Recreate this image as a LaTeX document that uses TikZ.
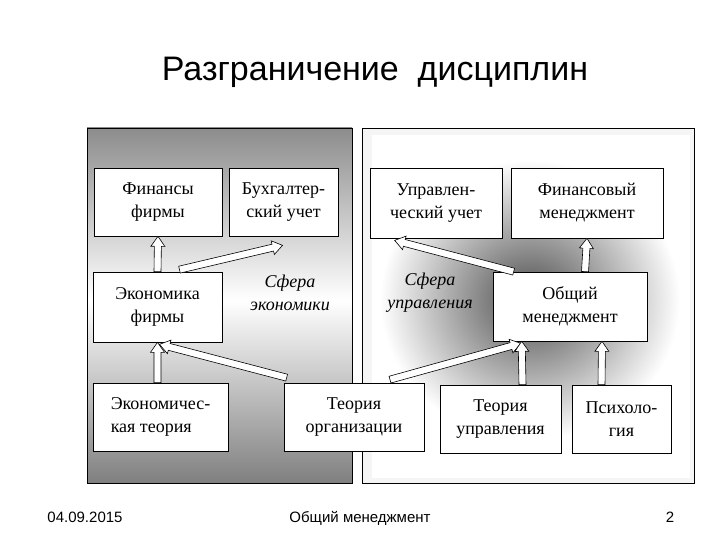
\documentclass[tikz,border=0pt]{standalone}
\usepackage{fontspec}
\setmainfont{Liberation Serif}
\newfontfamily\sansf{Liberation Sans}
\usetikzlibrary{calc}
\newcommand\harrow[2]{\draw[fill=white,line width=0.6pt] let \p1=#1, \p2=#2, \n1={atan2(\y2-\y1,\x2-\x1)}, \n2={veclen(\x2-\x1,\y2-\y1)} in [shift={(\p1)}, rotate=\n1] (0,-3.5pt) -- (\n2-10pt,-3.5pt) -- (\n2-10pt,-7pt) -- (\n2,0) -- (\n2-10pt,7pt) -- (\n2-10pt,3.5pt) -- (0,3.5pt) -- cycle;}
\begin{document}
\begin{tikzpicture}[x=1pt,y=-1pt,
  box/.style={draw,fill=white,line width=0.7pt,align=center,font=\fontsize{18}{23}\selectfont},
  lbl/.style={align=center,font=\itshape\fontsize{18}{23}\selectfont},
  foot/.style={font=\sansf\fontsize{15}{17}\selectfont,anchor=base}]
\useasboundingbox (0,0) rectangle (720,540);
\fill[white] (0,0) rectangle (720,540);
% left panel
\shade[top color=black!45,bottom color=white] (87,128) rectangle (352,300);
\shade[top color=white,bottom color=black!50] (87,300) rectangle (352,483);
\draw[line width=0.7pt] (87,128) rectangle (352,483);
% right panel
\begin{scope}
\clip (362,128) rectangle (694,483);
\fill[black!4] (362,128) rectangle (694,483);
\fill[white] (372,135) rectangle (690,478);
\shade[inner color=black!70,outer color=white] (530,300) ellipse (150 and 140);
\end{scope}
\draw[line width=0.7pt] (362,128) rectangle (694,483);
\node[font=\sansf\fontsize{34}{38}\selectfont] (title) at (375,72) {Разграничение\ \ дисциплин};
% boxes
\node[box,minimum width=128,minimum height=68] (fin) at (158,202) {Финансы\\фирмы};
\node[box,minimum width=109,minimum height=68] (buh) at (283.5,202) {Бухгалтер-\\ский учет};
\node[box,minimum width=132,minimum height=70] (upr) at (436,203) {Управлен-\\ческий учет};
\node[box,minimum width=152,minimum height=70] (fm) at (587,203) {Финансовый\\менеджмент};
\node[box,minimum width=129,minimum height=70] (eco) at (157.5,307) {Экономика\\фирмы};
\node[box,minimum width=154,minimum height=69] (om) at (570,306.5) {Общий\\менеджмент};
\node[box,minimum width=135,minimum height=68,align=left,inner xsep=2pt] (et) at (160.5,417) {Экономичес-\\кая теория};
\node[box,minimum width=140,minimum height=68] (to) at (354,417) {Теория\\организации};
\node[box,minimum width=121,minimum height=68] (tu) at (500.5,419) {Теория\\управления};
\node[box,minimum width=99,minimum height=68,inner xsep=1pt] (ps) at (621.5,419) {Психоло-\\гия};
\node[lbl] (se) at (290,293) {Сфера\\экономики};
\node[lbl] (su) at (430,293) {Сфера\\управления};
% arrows
\harrow{(eco.north)}{(fin.south)}
\harrow{($(eco.north)+(22,-2)$)}{($(buh.south)+(-1,9)$)}
\harrow{($(et.north)+(-3,0)$)}{(eco.south)}
\harrow{($(to.north west)+(3,-5)$)}{($(eco.south)+(2,2)$)}
\harrow{($(to.north)+(36,-3)$)}{($(om.south west)+(28,2)$)}
\harrow{($(om.north west)+(21,0)$)}{($(upr.south west)+(25,2)$)}
\harrow{($(om.north)+(15,0)$)}{(fm.south)}
\harrow{($(tu.north)+(22,0)$)}{($(om.south west)+(29,0)$)}
\harrow{($(ps.north)+(-20,0)$)}{($(om.south)+(32,0)$)}
% footer
\node[foot] (d) at (85,522) {04.09.2015};
\node[foot] (f) at (360,522) {Общий менеджмент};
\node[foot] (p) at (670,522) {2};
\end{tikzpicture}
\end{document}
